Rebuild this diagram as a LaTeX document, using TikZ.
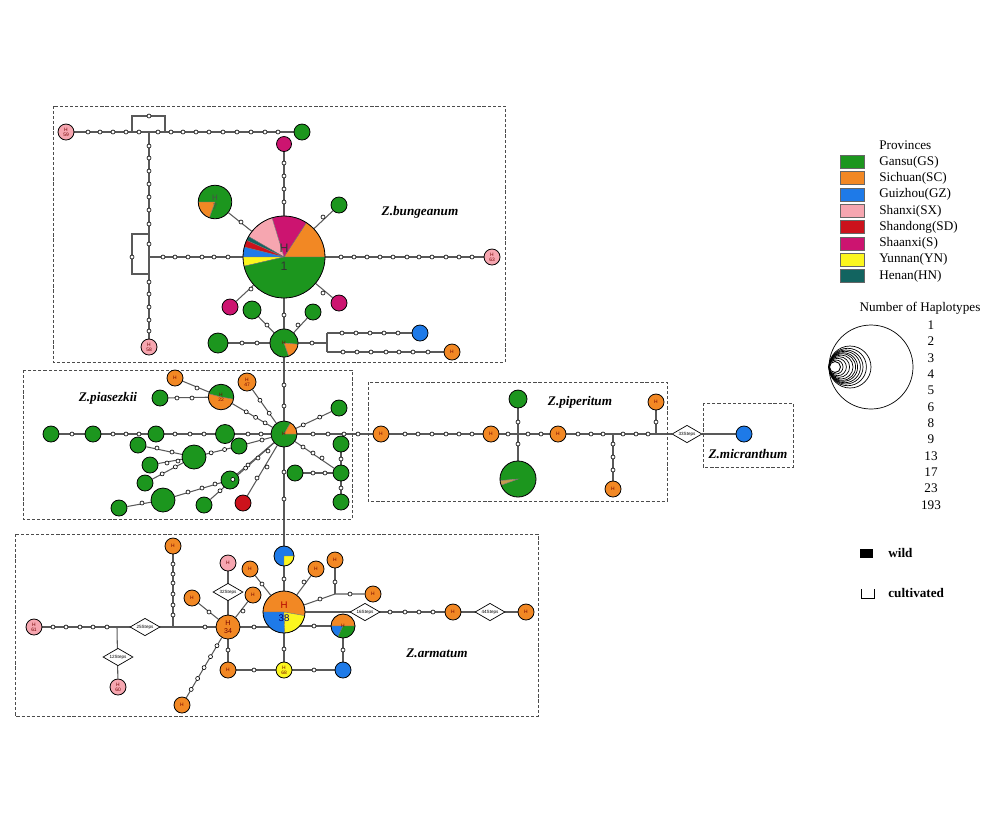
\documentclass[tikz,border=0pt]{standalone}
\usepackage{fontspec}
\setmainfont{Liberation Serif}
\setsansfont{Liberation Sans}
\usetikzlibrary{shapes.geometric,calc,backgrounds}

\definecolor{gsgreen}{RGB}{28,150,30}
\definecolor{scorange}{RGB}{242,136,36}
\definecolor{gzblue}{RGB}{30,122,232}
\definecolor{sxpink}{RGB}{246,166,176}
\definecolor{sdred}{RGB}{204,18,28}
\definecolor{smagenta}{RGB}{204,20,112}
\definecolor{ynyellow}{RGB}{252,246,30}
\definecolor{hnteal}{RGB}{18,100,96}
\definecolor{sliver}{RGB}{196,156,80}

\tikzset{
  hap/.style={circle,draw=black,line width=0.45pt,inner sep=0pt,minimum size=#1,align=center,
    text=red!45!black,font=\sffamily\fontsize{2.8}{3}\selectfont},
  hap/.default=0.32cm,
  mv/.style={circle,draw=black,fill=white,inner sep=0pt,minimum size=0.08cm,line width=0.35pt},
  link/.style={draw=black!65,line width=0.6pt},
  stepbox/.style={diamond,draw=black,fill=white,aspect=1.7,inner sep=0pt,line width=0.4pt,
    minimum width=0.6cm,minimum height=0.35cm,font=\sffamily\fontsize{2.6}{3}\selectfont},
  region/.style={draw=black!70,line width=0.5pt,dash pattern=on 1.8pt off 1.1pt},
  taxon/.style={inner sep=0pt,font=\bfseries\itshape\fontsize{7.5}{9}\selectfont},
  legtext/.style={anchor=west,inner sep=0pt,font=\fontsize{7.5}{9}\selectfont},
  swatch/.style={draw=black!60,minimum width=0.48cm,minimum height=0.26cm,inner sep=0pt}
}

\newcommand{\hapslice}[5]{%
  \fill[#5,draw=black!55,line width=0.2pt] (#1) -- ++(#3:#2) arc[start angle=#3,end angle=#4,radius=#2] -- cycle;}
\newcommand{\mutdots}[3]{%
  \foreach \f [count=\k] in {#3} {\node[mv] (#1-#2-\k) at ($(#1)!\f!(#2)$) {};}}

\begin{document}
\begin{tikzpicture}[x=0.02cm,y=-0.02cm]
\useasboundingbox (0,0) rectangle (1000,826);

% regions
\draw[region] (53,106) rectangle (505,362);
\draw[region] (23,370) rectangle (352,519);
\draw[region] (368,382) rectangle (667,501);
\draw[region] (703,403) rectangle (793,467);
\draw[region] (15,534) rectangle (538,716);
\node[taxon] (tbung) at (420,212) {Z.bungeanum};
\node[taxon] (tpias) at (108,398) {Z.piasezkii};
\node[taxon] (tpip) at (580,402) {Z.piperitum};
\node[taxon] (tmic) at (748,454) {Z.micranthum};
\node[taxon] (tarm) at (437,653) {Z.armatum};

%%% Z.bungeanum
\coordinate (c1) at (284,257);
\hapslice{c1}{0.82cm}{0}{57}{scorange}
\hapslice{c1}{0.82cm}{57}{107}{smagenta}
\hapslice{c1}{0.82cm}{107}{150}{sxpink}
\hapslice{c1}{0.82cm}{150}{156}{hnteal}
\hapslice{c1}{0.82cm}{156}{166}{sdred}
\hapslice{c1}{0.82cm}{166}{180}{gzblue}
\hapslice{c1}{0.82cm}{180}{193}{ynyellow}
\hapslice{c1}{0.82cm}{193}{360}{gsgreen}
\node[hap=1.64cm,text=black!80,font=\sffamily\fontsize{7}{10}\selectfont] (h1) at (c1) {H\\1};
\coordinate (c7) at (215,202);
\hapslice{c7}{0.335cm}{250}{540}{gsgreen}
\hapslice{c7}{0.335cm}{180}{250}{scorange}
\node[hap=0.67cm,text=black!70,font=\sffamily\fontsize{4.5}{5}\selectfont] (h7) at (c7) {H\\7};
\coordinate (c8) at (284,343);
\hapslice{c8}{0.28cm}{-5}{290}{gsgreen}
\hapslice{c8}{0.28cm}{290}{355}{scorange}
\node[hap=0.56cm] (ba8) at (c8) {H};
\node[hap,fill=sxpink] (h59) at (66,132) {H\\59};
\node[hap,fill=gsgreen] (ba1) at (302,132) {};
\node[hap=0.3cm,fill=smagenta] (ba2) at (284,144) {};
\node[hap,fill=gsgreen] (ba3) at (339,205) {};
\node[hap,fill=smagenta] (ba4) at (230,307) {};
\node[hap,fill=smagenta] (ba5) at (339,303) {};
\node[hap=0.36cm,fill=gsgreen] (ba6) at (252,310) {};
\node[hap,fill=gsgreen] (ba7) at (313,312) {};
\node[hap=0.4cm,fill=gsgreen] (ba9) at (218,343) {};
\node[hap,fill=gzblue] (ba10) at (420,333) {};
\node[hap,fill=scorange] (ba11) at (452,352) {H};
\node[hap,fill=sxpink] (h58) at (149,347) {H\\58};
\node[hap,fill=sxpink] (h63) at (492,257) {H\\63};
\coordinate (lp1) at (132,132); \coordinate (lp2) at (165,132);
\coordinate (lp4) at (165,116);
\coordinate (vj1) at (149,132); \coordinate (vj2) at (149,257);
\coordinate (lp5) at (149,234); \coordinate (lp6) at (149,274);
\coordinate (lp8) at (132,274);
\coordinate (fj) at (327,343); \coordinate (fj1) at (327,333); \coordinate (fj2) at (327,352);

%%% Z.piasezkii
\coordinate (c16) at (284,434);
\hapslice{c16}{0.26cm}{60}{360}{gsgreen}
\hapslice{c16}{0.26cm}{0}{60}{scorange}
\node[hap=0.52cm] (pa16) at (c16) {H};
\coordinate (c22) at (221,397);
\hapslice{c22}{0.255cm}{-10}{165}{gsgreen}
\hapslice{c22}{0.255cm}{165}{350}{scorange}
\node[hap=0.51cm] (h22) at (c22) {H\\22};
\node[hap,fill=scorange] (pa1) at (175,378) {H};
\node[hap=0.36cm,fill=scorange] (h47) at (247,382) {H\\47};
\node[hap,fill=gsgreen] (pa2) at (160,398) {};
\node[hap,fill=gsgreen] (pa3) at (51,434) {};
\node[hap,fill=gsgreen] (pa4) at (93,434) {};
\node[hap,fill=gsgreen] (pa5) at (156,434) {};
\node[hap=0.38cm,fill=gsgreen] (pa6) at (225,434) {};
\node[hap,fill=gsgreen] (pa7) at (138,445) {};
\node[hap,fill=gsgreen] (pa8) at (150,465) {};
\node[hap=0.48cm,fill=gsgreen] (pa9) at (194,457) {};
\node[hap,fill=gsgreen] (pa10) at (239,446) {};
\node[hap,fill=gsgreen] (pa11) at (145,483) {};
\node[hap=0.48cm,fill=gsgreen] (pa12) at (163,500) {};
\node[hap=0.36cm,fill=gsgreen] (pa13) at (230,480) {};
\node[hap,fill=gsgreen] (pa14) at (119,508) {};
\node[hap,fill=gsgreen] (pa15) at (204,505) {};
\node[hap,fill=sdred] (pa17) at (243,503) {};
\node[hap,fill=gsgreen] (pa18) at (339,408) {};
\node[hap,fill=gsgreen] (pa19) at (341,444) {};
\node[hap,fill=gsgreen] (pa20) at (341,473) {};
\node[hap,fill=gsgreen] (pa21) at (341,502) {};
\node[hap,fill=gsgreen] (pa22) at (295,473) {};

%%% Z.piperitum and Z.micranthum
\coordinate (c5) at (518,479);
\hapslice{c5}{0.36cm}{200}{545}{gsgreen}
\hapslice{c5}{0.36cm}{185}{200}{sliver}
\node[hap=0.72cm] (pp5) at (c5) {};
\node[hap,fill=scorange] (pp1) at (381,434) {H};
\node[hap,fill=scorange] (pp2) at (491,434) {H};
\node[hap,fill=scorange] (pp3) at (558,434) {H};
\node[hap=0.36cm,fill=gsgreen] (pp4) at (518,399) {};
\node[hap,fill=scorange] (pp6) at (613,489) {H};
\node[hap,fill=scorange] (pp7) at (656,402) {H};
\node[stepbox] (s33) at (687,434) {33Steps};
\node[hap,fill=gzblue] (mi1) at (744,434) {};
\coordinate (jp1) at (518,434); \coordinate (jp2) at (613,434); \coordinate (jp3) at (656,434);

%%% Z.armatum
\coordinate (cbt) at (284,556);
\hapslice{cbt}{0.2cm}{0}{270}{gzblue}
\hapslice{cbt}{0.2cm}{270}{360}{ynyellow}
\node[hap=0.4cm] (ar0) at (cbt) {};
\coordinate (c38) at (284,612);
\hapslice{c38}{0.42cm}{350}{540}{scorange}
\hapslice{c38}{0.42cm}{180}{272}{gzblue}
\hapslice{c38}{0.42cm}{272}{350}{ynyellow}
\node[hap=0.84cm,font=\sffamily\fontsize{5.5}{7.5}\selectfont] (h38) at (c38)
  {\textcolor{red!70!black}{H}\\\textcolor{blue!45!black}{38}};
\coordinate (cgo) at (343,626);
\hapslice{cgo}{0.24cm}{0}{180}{scorange}
\hapslice{cgo}{0.24cm}{180}{245}{gzblue}
\hapslice{cgo}{0.24cm}{245}{360}{gsgreen}
\node[hap=0.48cm] (ar8) at (cgo) {H};
\node[hap=0.48cm,fill=scorange,font=\sffamily\fontsize{4}{5}\selectfont] (h34) at (228,627) {H\\34};
\node[hap,fill=sxpink] (h61) at (34,627) {H\\61};
\node[hap,fill=sxpink] (h60) at (118,687) {H\\60};
\node[hap,fill=ynyellow] (h68) at (284,670) {H\\68};
\node[hap,fill=scorange] (ar1) at (173,546) {H};
\node[hap,fill=sxpink] (ar2) at (228,563) {H};
\node[hap,fill=scorange] (ar3) at (192,598) {H};
\node[hap,fill=scorange] (ar4) at (253,595) {H};
\node[hap,fill=scorange] (ar5) at (228,670) {H};
\node[hap,fill=scorange] (ar6) at (182,705) {H};
\node[hap,fill=gzblue] (ar7) at (343,670) {};
\node[hap,fill=scorange] (ar9) at (250,569) {H};
\node[hap,fill=scorange] (ar10) at (316,569) {H};
\node[hap,fill=scorange] (ar11) at (335,560) {H};
\node[hap,fill=scorange] (ar12) at (373,594) {H};
\node[hap,fill=scorange] (ar13) at (453,612) {H};
\node[hap,fill=scorange] (ar14) at (526,612) {H};
\node[stepbox] (s25) at (145,627) {25Steps};
\node[stepbox] (s12) at (118,657) {12Steps};
\node[stepbox] (s32) at (228,592) {32Steps};
\node[stepbox] (s16) at (365,612) {16Steps};
\node[stepbox] (s44) at (490,612) {44Steps};
\coordinate (ja) at (117,627); \coordinate (jb) at (173,627); \coordinate (jc) at (335,594);

% connectors
\begin{pgfonlayer}{background}
\draw[link] (h59) -- (ba1);
\draw[link] (lp1) |- (lp4) -- (lp2);
\draw[link] (vj1) -- (h58);
\draw[link] (lp5) -| (lp8) -- (lp6);
\draw[link] (vj2) -- (h63);
\draw[link] (h1) -- (ba2);
\draw[link] (h7) -- (h1);
\draw[link] (ba3) -- (h1);
\draw[link] (ba4) -- (h1);
\draw[link] (ba5) -- (h1);
\draw[link] (h1) -- (ba8);
\draw[link] (ba6) -- (ba8);
\draw[link] (ba7) -- (ba8);
\draw[link] (ba9) -- (ba8);
\draw[link] (ba8) -- (fj);
\draw[link] (fj1) -- (fj2);
\draw[link] (fj1) -- (ba10);
\draw[link] (fj2) -- (ba11);
\draw[link] (ba8) -- (pa16) -- (ar0) -- (h38);
\draw[link] (pa1) -- (h22);
\draw[link] (pa2) -- (h22);
\draw[link] (h22) -- (pa16);
\draw[link] (h47) -- (pa16);
\draw[link] (pa3) -- (pa16);
\draw[link] (pa16) -- (pp1);
\draw[link] (pa7) -- (pa9);
\draw[link] (pa8) -- (pa9);
\draw[link] (pa11) -- (pa9);
\draw[link] (pa9) -- (pa10) -- (pa16);
\draw[link] (pa14) -- (pa12) -- (pa13) -- (pa16);
\draw[link] (pa15) -- (pa16);
\draw[link] (pa17) -- (pa16);
\draw[link] (pa18) -- (pa16);
\draw[link] (pa16) -- (pa20);
\draw[link] (pa19) -- (pa21);
\draw[link] (pa22) -- (pa20);
\draw[link] (pp1) -- (s33) -- (mi1);
\draw[link] (pp4) -- (pp5);
\draw[link] (jp2) -- (pp6);
\draw[link] (jp3) -- (pp7);
\draw[link] (h61) -- (h34);
\draw[link] (h34) -- (h34 -| h38);
\draw[link] (ar8 -| h38) -- (ar8);
\draw[link] (ja) -- (h60);
\draw[link] (jb) -- (ar1);
\draw[link] (h34) -- (ar2);
\draw[link] (h34) -- (ar3);
\draw[link] (h34) -- (ar4);
\draw[link] (h34) -- (ar5);
\draw[link] (h34) -- (ar6);
\draw[link] (ar5) -- (ar7);
\draw[link] (h38) -- (h68);
\draw[link] (ar8) -- (ar7);
\draw[link] (h38) -- (ar9);
\draw[link] (h38) -- (ar10);
\draw[link] (h38) -- (jc) -- (ar12);
\draw[link] (jc) -- (ar11);
\draw[link] (h38) -- (ar14);
\end{pgfonlayer}

% mutation steps
\foreach \x [count=\i] in {88,100,113,126,139,158,171,183,196,209,223,237,251,265,278} {\node[mv] (bt\i) at (\x,132) {};}
\node[mv] (bt0) at (149,116) {};
\foreach \y [count=\i] in {146,158,171,184,197,210,224,244,282,294,307,320,331} {\node[mv] (bv\i) at (149,\y) {};}
\node[mv] (bv0) at (132,257) {};
\foreach \x [count=\i] in {163,175,188,202,214,228} {\node[mv] (bl\i) at (\x,257) {};}
\foreach \x [count=\i] in {341,354,367,380,393,407,419,432,446,459,472} {\node[mv] (br\i) at (\x,257) {};}
\foreach \y [count=\i] in {163,176,189,202} {\node[mv] (bu\i) at (284,\y) {};}
\node[mv] (bd1) at (241,222) {};
\node[mv] (bd2) at (323,217) {};
\node[mv] (bd3) at (251,289) {};
\node[mv] (bd4) at (323,293) {};
\node[mv] (bd5) at (284,315) {};
\node[mv] (bd6) at (267,325) {};
\node[mv] (bd7) at (298,325) {};
\node[mv] (bd8) at (242,343) {};
\node[mv] (bd9) at (257,343) {};
\node[mv] (bd10) at (312,343) {};
\foreach \x [count=\i] in {342,356,370,384,398} {\node[mv] (bf\i) at (\x,333) {};}
\foreach \x [count=\i] in {343,357,371,386,399,413,428} {\node[mv] (bg\i) at (\x,352) {};}
% piasezkii steps
\foreach \y [count=\i] in {385,406,472,499} {\node[mv] (pv\i) at (284,\y) {};}
\foreach \x [count=\i] in {72,113,126,139,175,190,204,248,261,313,328,344,358} {\node[mv] (ph\i) at (\x,434) {};}
\node[mv] (pd1) at (197,388) {};
\node[mv] (pd2) at (177,398) {};
\node[mv] (pd3) at (192,398) {};
\mutdots{h22}{pa16}{0.4,0.55,0.7}
\mutdots{h47}{pa16}{0.35,0.6}
\node[mv] (pd9) at (157,448) {};
\node[mv] (pd10) at (172,452) {};
\node[mv] (pd11) at (167,463) {};
\node[mv] (pd12) at (178,461) {};
\mutdots{pa9}{pa10}{0.38,0.68}
\node[mv] (pd13) at (262,440) {};
\mutdots{pa11}{pa9}{0.35,0.62}
\node[mv] (pd14) at (188,492) {};
\node[mv] (pd15) at (202,488) {};
\node[mv] (pd16) at (215,484) {};
\node[mv] (pd17) at (248,465) {};
\node[mv] (pd18) at (258,458) {};
\node[mv] (pd19) at (268,451) {};
\node[mv] (pd20) at (142,503) {};
\mutdots{pa15}{pa16}{0.2,0.36,0.52}
\node[mv] (pd21) at (257,478) {};
\node[mv] (pd22) at (267,467) {};
\mutdots{pa18}{pa16}{0.35,0.65}
\node[mv] (pd23) at (303,447) {};
\node[mv] (pd24) at (313,453) {};
\node[mv] (pd25) at (322,458) {};
\node[mv] (pd26) at (341,459) {};
\node[mv] (pd27) at (341,488) {};
\node[mv] (pd28) at (313,473) {};
\node[mv] (pd29) at (325,473) {};
% piperitum steps
\foreach \x [count=\i] in {405,418,432,446,459,472,508,528,541,578,591,603,623,636,648} {\node[mv] (qh\i) at (\x,434) {};}
\node[mv] (qv1) at (518,422) {};
\node[mv] (qv2) at (518,444) {};
\foreach \y [count=\i] in {444,457,470} {\node[mv] (qw\i) at (613,\y) {};}
\node[mv] (qv3) at (656,422) {};
% armatum steps
\foreach \x [count=\i] in {53,66,80,93,107,205,254} {\node[mv] (ah\i) at (\x,627) {};}
\foreach \y [count=\i] in {564,574,583,594,605,615} {\node[mv] (av\i) at (173,\y) {};}
\foreach \x [count=\i] in {390,405,419,433} {\node[mv] (ak\i) at (\x,612) {};}
\node[mv] (ad1) at (209,612) {};
\node[mv] (ad2) at (243,611) {};
\node[mv] (ad3) at (228,650) {};
\mutdots{h34}{ar6}{0.24,0.38,0.52,0.66,0.8}
\node[mv] (ad4) at (254,670) {};
\node[mv] (ad5) at (314,670) {};
\node[mv] (ad6) at (284,649) {};
\node[mv] (ad7) at (343,650) {};
\node[mv] (ad8) at (314,626) {};
\node[mv] (ad9) at (284,579) {};
\node[mv] (ad10) at (262,584) {};
\node[mv] (ad11) at (304,582) {};
\node[mv] (ad12) at (320,599) {};
\node[mv] (ad13) at (335,582) {};
\node[mv] (ad14) at (350,594) {};

%%% legend
\node[legtext] (lprov) at (879,145) {Provinces};
\foreach \col/\lab [count=\i] in {gsgreen/Gansu(GS),scorange/Sichuan(SC),gzblue/Guizhou(GZ),
  sxpink/Shanxi(SX),sdred/Shandong(SD),smagenta/Shaanxi(S),ynyellow/Yunnan(YN),hnteal/Henan(HN)}
  {\node[swatch,fill=\col] (sw\i) at (852,{145.7+16.3*\i}) {};
   \node[legtext] (lt\i) at (879,{145.7+16.3*\i}) {\lab};}
\node[inner sep=0pt,font=\fontsize{7.5}{9}\selectfont] (lnum) at (920,308) {Number of Haplotypes};
\foreach \n [count=\i] in {1,2,3,4,5,6,8,9,13,17,23,193}
  {\node[inner sep=0pt,font=\fontsize{7.5}{9}\selectfont] (ln\i) at (931,{325+16.35*(\i-1)}) {\n};}
\foreach \r in {42,21,18.7,17,15.7,14.3,13.3,12,10.3,8.7,7}
  {\draw[line width=0.4pt] ({829+\r},367) circle[radius=\r];}
\draw[line width=0.5pt,fill=white] (835,367) circle[radius=5.5];
\fill (860,549) rectangle (873,558);
\node[legtext,font=\bfseries\fontsize{7.5}{9}\selectfont] (lwild) at (888,553) {wild};
\draw[line width=0.4pt] (861,589) -- (861,598) -- (874,598) -- (874,589);
\node[legtext,font=\bfseries\fontsize{7.5}{9}\selectfont] (lcult) at (888,593) {cultivated};
\end{tikzpicture}
\end{document}
